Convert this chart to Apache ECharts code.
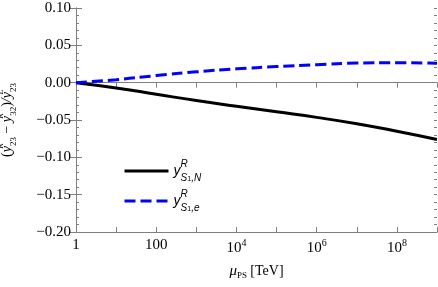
<!DOCTYPE html>
<html><head><meta charset="utf-8">
<script src="https://cdn.jsdelivr.net/npm/echarts@6/dist/echarts.min.js"></script>
<style>html,body{margin:0;padding:0;background:#fff}#c{width:438px;height:287px}</style>
</head><body><div id="c"></div>
<script>
// x values are log10(mu_PS / TeV)
const logMu = [0, 1, 2, 3, 4, 5, 6, 7, 8, 9];
const seriesN = [0, -0.007, -0.0155, -0.024, -0.0315, -0.039, -0.0465, -0.055, -0.065, -0.076];
const seriesE = [0, 0.004, 0.0095, 0.0145, 0.0185, 0.0215, 0.024, 0.0262, 0.0268, 0.026];
const xTickLabels = {0: '1', 2: '100', 4: '{b|10}{s|4}', 6: '{b|10}{s|6}', 8: '{b|10}{s|8}'};
const yMin = -0.2, yMax = 0.1, yStep = 0.05, yMinorStep = 0.01;

const SERIF = '"Liberation Serif", "DejaVu Serif", serif';
const SANS = '"Liberation Sans", Arial, sans-serif';
const axisColor = '#7f7f7f';

const chart = echarts.init(document.getElementById('c'), null, {renderer: 'canvas'});
const fmtY = v => {
  const s = Math.abs(v).toFixed(2);
  return (v < -1e-9 ? '\u2212' : '') + s;
};
const legendRich = {
  y: {fontFamily: SANS, fontStyle: 'italic', fontSize: 14, color: '#000', lineHeight: 24, verticalAlign: 'middle'},
  sup: {fontFamily: SANS, fontStyle: 'italic', fontSize: 10, color: '#000', width: 0.1, verticalAlign: 'top', lineHeight: 24},
  sub: {fontFamily: SANS, fontStyle: 'italic', fontSize: 10, color: '#000', verticalAlign: 'bottom', lineHeight: 24},
  sub1: {fontFamily: SANS, fontSize: 7, color: '#000', verticalAlign: 'bottom', lineHeight: 22}
};
const hiddenY = (pos, step, len) => ({
  type: 'value', min: yMin, max: yMax, interval: step, position: pos,
  axisLine: {show: false},
  axisTick: {show: true, inside: true, length: len, lineStyle: {color: axisColor}},
  axisLabel: {show: false}, splitLine: {show: false}
});
chart.setOption({
  animation: false,
  grid: {left: 76, right: 1, top: 8, bottom: 55, containLabel: false, outerBoundsMode: 'none'},
  xAxis: [{
    type: 'value', min: 0, max: 9, interval: 1,
    name: '{mu|\u03bc}{ps|PS} {t|[TeV]}', nameLocation: 'middle', nameGap: 30,
    nameTextStyle: {rich: {
      mu: {fontFamily: SERIF, fontStyle: 'italic', fontSize: 15, color: '#000', verticalAlign: 'middle', lineHeight: 18},
      ps: {fontFamily: SERIF, fontSize: 9, color: '#000', verticalAlign: 'bottom', lineHeight: 18},
      t: {fontFamily: SERIF, fontSize: 14, color: '#000', verticalAlign: 'middle', lineHeight: 18}
    }},
    axisLine: {show: true, onZero: false, lineStyle: {color: axisColor}},
    axisTick: {show: true, inside: true, length: 5, lineStyle: {color: axisColor}},
    splitLine: {show: false},
    axisLabel: {
      margin: 6, color: '#000', fontFamily: SERIF, fontSize: 15,
      formatter: v => xTickLabels[v] !== undefined ? xTickLabels[v] : '',
      rich: {
        b: {fontFamily: SERIF, fontSize: 15, color: '#000', verticalAlign: 'bottom', lineHeight: 18},
        s: {fontFamily: SERIF, fontSize: 10, color: '#000', verticalAlign: 'top', lineHeight: 18}
      }
    }
  }, {
    type: 'value', min: 0, max: 9, interval: 1, position: 'top',
    axisLine: {show: true, lineStyle: {color: axisColor}},
    axisTick: {show: true, inside: true, length: 5, lineStyle: {color: axisColor}},
    axisLabel: {show: false}, splitLine: {show: false}
  }],
  yAxis: [{
    type: 'value', min: yMin, max: yMax, interval: yStep,
    name: '({y|y}{sup|R}{sub|23} \u2212 {y|y}{sup|R}{sub|32}){y|/y}{sup|L}{sub|23}',
    nameLocation: 'middle', nameGap: 58, nameRotate: 90,
    nameTextStyle: {fontFamily: SERIF, fontSize: 14, color: '#000', rich: {
      y: {fontFamily: SERIF, fontStyle: 'italic', fontSize: 14, color: '#000', verticalAlign: 'middle', lineHeight: 22},
      sup: {fontFamily: SERIF, fontStyle: 'italic', fontSize: 9, color: '#000', width: 0.1, verticalAlign: 'top', lineHeight: 22},
      sub: {fontFamily: SERIF, fontSize: 9, color: '#000', verticalAlign: 'bottom', lineHeight: 22}
    }},
    axisLine: {show: true, onZero: false, lineStyle: {color: axisColor}},
    axisTick: {show: true, inside: true, length: 6, lineStyle: {color: axisColor}},
    splitLine: {show: false},
    axisLabel: {margin: 5, color: '#000', fontFamily: SERIF, fontSize: 15, formatter: fmtY}
  }, {
    type: 'value', min: yMin, max: yMax, interval: yStep, position: 'right',
    axisLine: {show: true, lineStyle: {color: axisColor}},
    axisTick: {show: true, inside: true, length: 6, lineStyle: {color: axisColor}},
    axisLabel: {show: false}, splitLine: {show: false}
  },
    hiddenY('left', yMinorStep, 3),
    hiddenY('right', yMinorStep, 3)
  ],
  legend: {
    show: true, orient: 'vertical', left: 118, top: 154, itemWidth: 44, itemHeight: 12, itemGap: 6,
    data: ['N', 'e'],
    itemStyle: {opacity: 0},
    lineStyle: {width: 3},
    formatter: n => '{y|y}{sup|R}{sub|S}{sub1|1}{sub|,' + n + '}',
    textStyle: {rich: legendRich}
  },
  series: [{
    name: 'N', type: 'line', smooth: true, symbol: 'none',
    data: logMu.map((x, i) => [x, seriesN[i]]),
    lineStyle: {color: '#000', width: 3}, itemStyle: {color: '#000'}
  }, {
    name: 'e', type: 'line', smooth: true, symbol: 'none',
    data: logMu.map((x, i) => [x, seriesE[i]]),
    lineStyle: {color: '#0000ff', width: 3, type: [11, 5]}, itemStyle: {color: '#0000ff'}
  }]
});
</script></body></html>
